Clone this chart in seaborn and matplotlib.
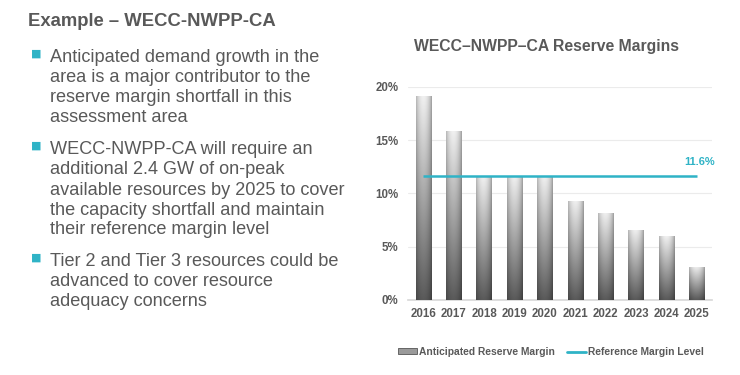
import numpy as np
import matplotlib
matplotlib.use('Agg')
import matplotlib.pyplot as plt
import seaborn as sns
from matplotlib.patches import Patch
from matplotlib.lines import Line2D

# ==========================================
# Data
# ==========================================
years = ['2016', '2017', '2018', '2019', '2020', '2021', '2022', '2023', '2024', '2025']
reserve_margin = [19.1, 15.8, 11.6, 11.6, 11.6, 9.3, 8.2, 6.6, 6.0, 3.1]   # %
reference_level = 11.6   # %
y_ticks = [0, 5, 10, 15, 20]

slide_title = 'Example – WECC-NWPP-CA'
chart_title = 'WECC–NWPP–CA Reserve Margins'
bullets = [
    ['Anticipated demand growth in the', 'area is a major contributor to the',
     'reserve margin shortfall in this', 'assessment area'],
    ['WECC-NWPP-CA will require an', 'additional 2.4 GW of on-peak',
     'available resources by 2025 to cover', 'the capacity shortfall and maintain',
     'their reference margin level'],
    ['Tier 2 and Tier 3 resources could be', 'advanced to cover resource',
     'adequacy concerns'],
]
legend_labels = ['Anticipated Reserve Margin', 'Reference Margin Level']

TEAL = '#2fb3c6'
GRAY_TXT = '#595959'

sns.set_theme(style='white')
plt.rcParams['font.family'] = ['Liberation Sans', 'DejaVu Sans']

fig = plt.figure(figsize=(7.4, 3.75), dpi=100)
W, H = 740, 375

# ==========================================
# Left side text
# ==========================================
fig.text(28 / W, 1 - 22 / H, slide_title, fontsize=13.3, fontweight='bold',
         color=GRAY_TXT, va='center', ha='left')

line_h = 20
starts = [58, 150, 262]
for block, y0 in zip(bullets, starts):
    fig.text(31 / W, 1 - (y0 - 4) / H, '\u25A0', fontsize=8, color=TEAL,
             va='center', ha='left', family='DejaVu Sans')
    for i, line in enumerate(block):
        fig.text(50 / W, 1 - (y0 + i * line_h) / H, line, fontsize=13.1,
                 color=GRAY_TXT, va='center', ha='left')

# ==========================================
# Chart
# ==========================================
fig.text(547 / W, 1 - 47 / H, chart_title, fontsize=11.3, fontweight='bold',
         color=GRAY_TXT, va='center', ha='center')

ax = fig.add_axes([408 / W, 1 - 300 / H, 304 / W, (300 - 86.7) / H])
sns.barplot(x=years, y=reserve_margin, ax=ax, width=0.5, color='#aaaaaa',
            saturation=1, zorder=3)

# cylinder-like gradient on each bar
nx, ny = 40, 100
hx = np.linspace(0, 1, nx)
horiz = 0.62 + 0.45 * np.sin(np.pi * (hx * 0.9 + 0.08)) ** 0.6
vert = np.linspace(0.88, 0.33, ny)[:, None]
shade = np.clip(vert * horiz[None, :], 0, 1)
grad = np.dstack([shade, shade, shade])
for p in ax.patches:
    x0, y0 = p.get_x(), p.get_y()
    w, h = p.get_width(), p.get_height()
    p.set_facecolor('none')
    p.set_edgecolor('none')
    im = ax.imshow(grad, extent=[x0, x0 + w, y0, y0 + h], aspect='auto',
                   origin='upper', zorder=3, interpolation='bilinear')
    im.set_clip_path(p)

ax.hlines(reference_level, 0, len(years) - 1, color=TEAL, lw=1.8, zorder=4)
ax.annotate(f'{reference_level:.1f}%', xy=(len(years) - 1, reference_level),
            xytext=(2, 7), textcoords='offset points', ha='center', va='bottom',
            color=TEAL, fontsize=8, fontweight='bold')

ax.set_xlim(-0.5, len(years) - 0.5)
ax.set_ylim(0, 20)
ax.set_yticks(y_ticks)
ax.set_yticklabels([f'{t}%' for t in y_ticks])
ax.yaxis.grid(True, color='#ebebeb', lw=0.8, zorder=0)
ax.set_axisbelow(True)
for s in ['top', 'right', 'left']:
    ax.spines[s].set_visible(False)
ax.spines['bottom'].set_color('#d9d9d9')
ax.tick_params(axis='both', length=0, labelsize=8.3, labelcolor=GRAY_TXT, pad=6)
ax.tick_params(axis='y', pad=7)
for lab in ax.get_xticklabels() + ax.get_yticklabels():
    lab.set_fontweight('bold')
ax.set_xlabel('')
ax.set_ylabel('')

handles = [Patch(facecolor='#9a9a9a', edgecolor='#555555', lw=0.6),
           Line2D([0], [0], color=TEAL, lw=2)]
fig.legend(handles, legend_labels, loc='center', bbox_to_anchor=(551 / W, 1 - 352 / H),
           ncol=2, frameon=False, handlelength=1.8, handleheight=0.5,
           handletextpad=0.2, columnspacing=1.2, labelcolor=GRAY_TXT,
           prop={'weight': 'bold', 'size': 7.4})

fig.savefig('out.png', dpi=100)
